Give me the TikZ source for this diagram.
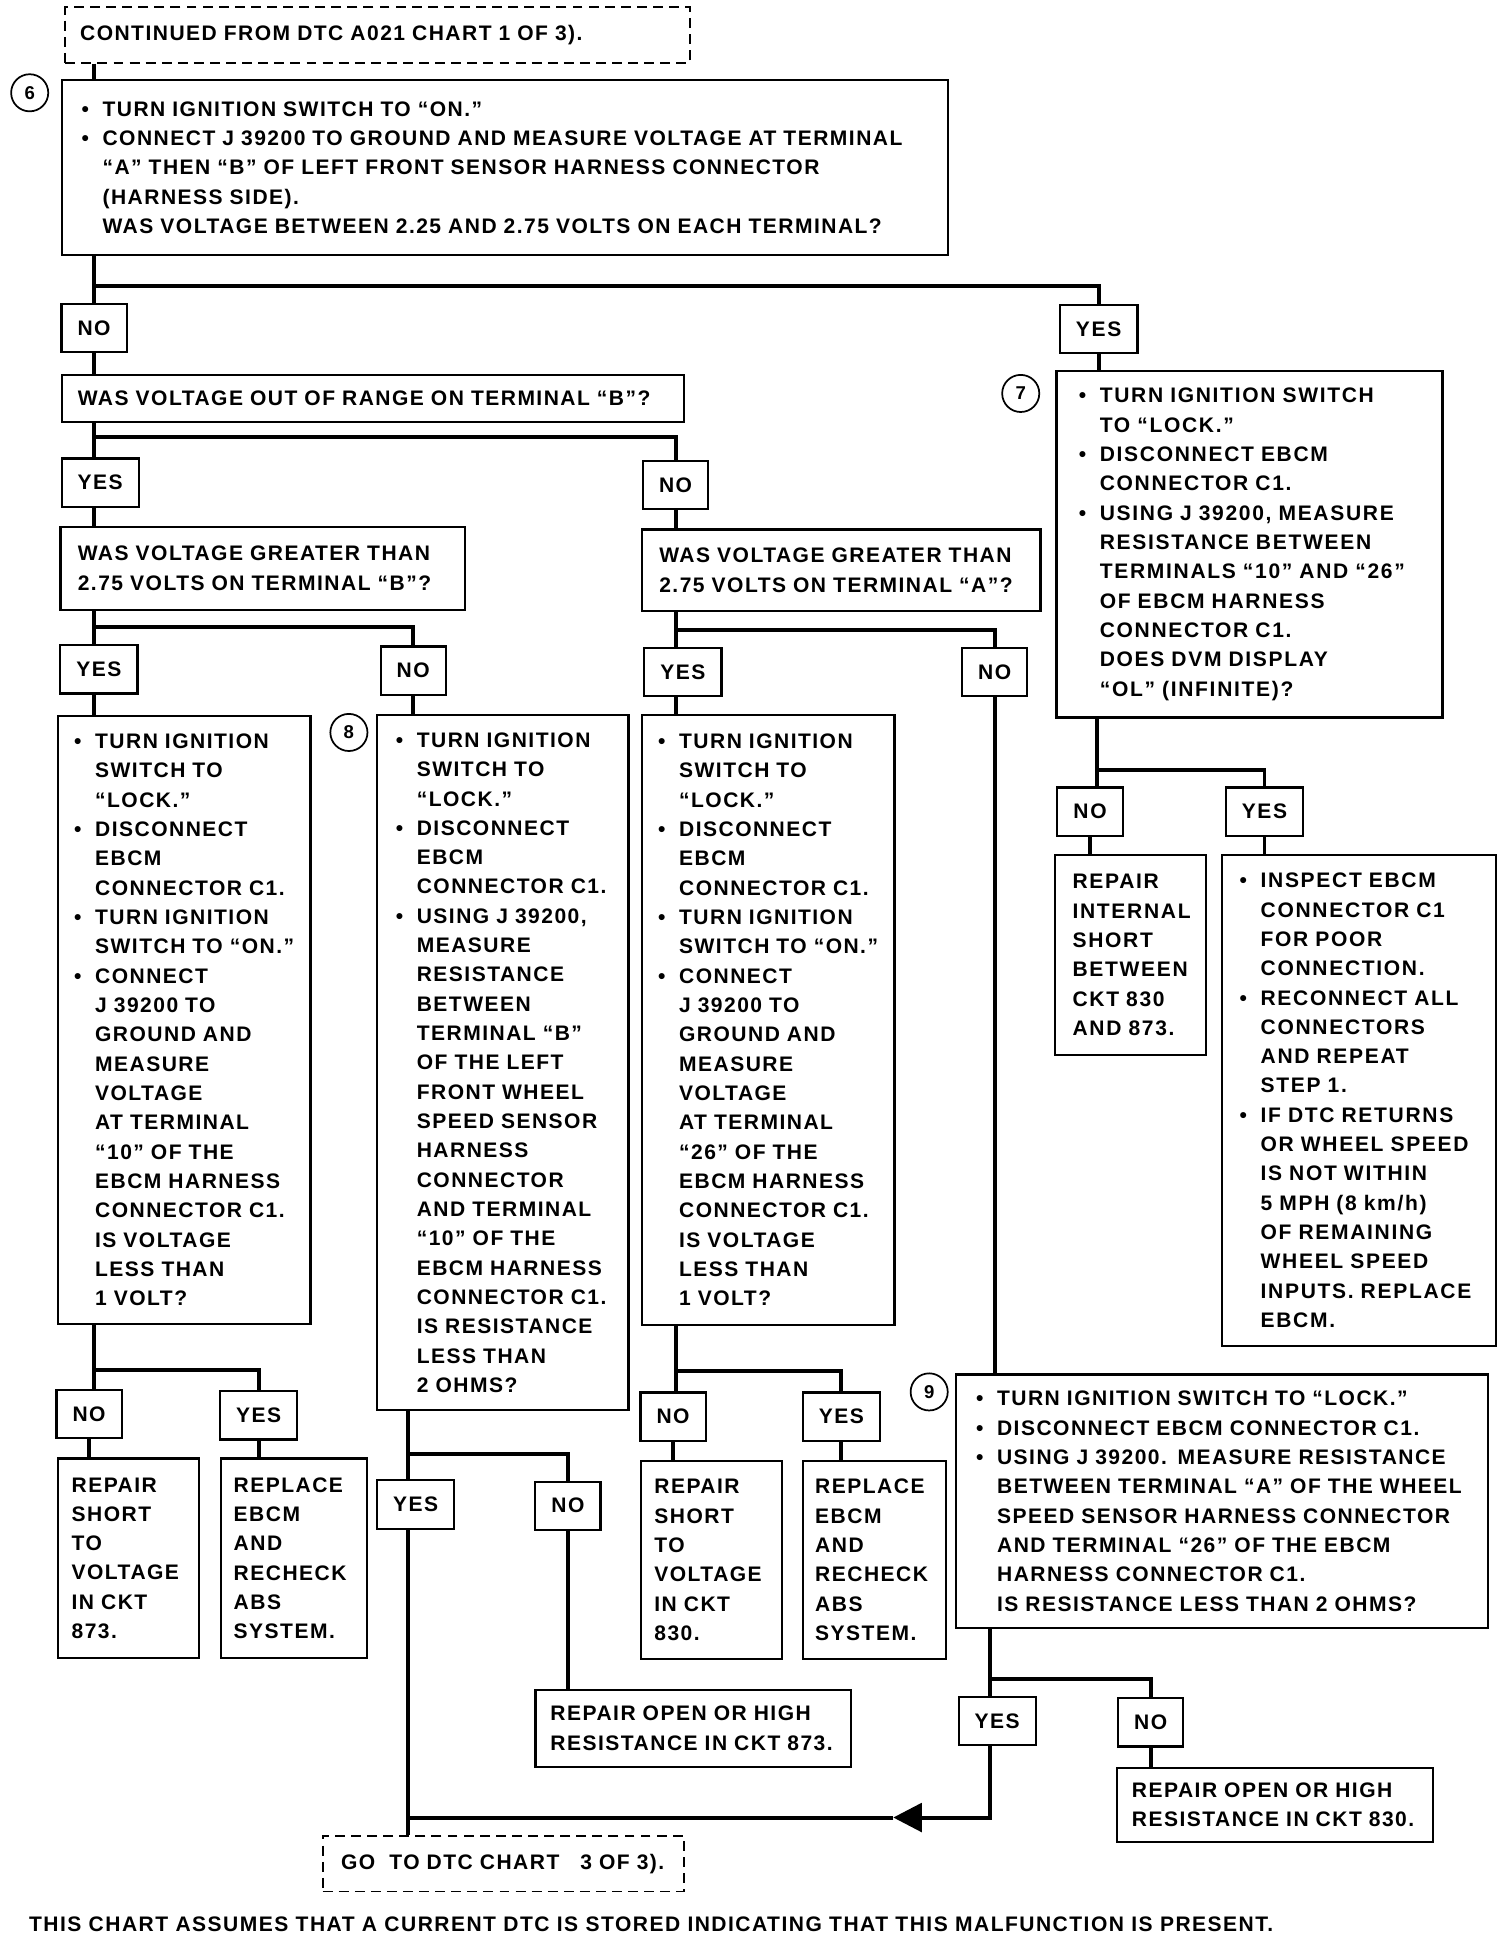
\documentclass[tikz,border=0pt]{standalone}
\usepackage{fontspec}
\usepackage{tikz}
\usetikzlibrary{arrows.meta}
\newfontfamily\chartfont[LetterSpace=7]{Liberation Sans}
\newfontfamily\widefont[LetterSpace=8]{Liberation Sans}
\newcommand{\bu}{\makebox[17pt][l]{\textbullet}}
\newcommand{\ind}{\hspace*{17pt}}

\begin{document}
\begin{tikzpicture}[x=1pt,y=-1pt,
   every node/.style={font=\chartfont\bfseries\fontsize{17}{23.7}\selectfont},
   textbox/.style={draw,line width=1.8pt,anchor=north west,align=left,inner ysep=0pt},
   wide/.style={font=\widefont\bfseries\fontsize{17}{23.7}\selectfont},
   answer/.style={draw,line width=1.8pt,minimum height=39pt,inner xsep=13pt,inner ysep=0pt},
   dashbox/.style={draw,dash pattern=on 8pt off 5pt,line width=1.5pt,anchor=north west,align=left,inner ysep=0pt},
   stepnum/.style={circle,draw,line width=1.4pt,minimum size=30pt,inner sep=0pt,
      font=\chartfont\bfseries\fontsize{15}{15}\selectfont},
   link/.style={line width=3.2pt}]

  \useasboundingbox (0,0) rectangle (1216,1568);

  % step 6
  \node[dashbox,inner xsep=12pt,text width=481pt,minimum height=45pt] (cont) at (52,5)
     {CONTINUED FROM DTC A021 CHART 1 OF 3).};
  \node[stepnum] (c6) at (24,75) {6};
  \node[textbox,inner xsep=16pt,text width=684pt,minimum height=141pt] (s6) at (49,64)
     {\bu TURN IGNITION SWITCH TO “ON.”\\
      \bu CONNECT J 39200 TO GROUND AND MEASURE VOLTAGE AT TERMINAL\\
      \ind “A” THEN “B” OF LEFT FRONT SENSOR HARNESS CONNECTOR\\
      \ind (HARNESS SIDE).\\
      \ind WAS VOLTAGE BETWEEN 2.25 AND 2.75 VOLTS ON EACH TERMINAL?};
  \node[answer] (no1) at (76,265) {NO};
  \node[answer,wide] (yes1) at (888,266) {YES};

  \node[textbox,inner xsep=13pt,text width=477pt,minimum height=38pt] (q1) at (49,302)
     {WAS VOLTAGE OUT OF RANGE ON TERMINAL “B”?};
  \node[answer] (yes2) at (81,390) {YES};
  \node[answer] (no2) at (546,392) {NO};

  \node[textbox,inner xsep=14pt,text width=299pt,minimum height=67pt] (q2) at (48,425)
     {WAS VOLTAGE GREATER THAN\\2.75 VOLTS ON TERMINAL “B”?};
  \node[textbox,inner xsep=14pt,text width=294pt,minimum height=66pt] (q3) at (518,427)
     {WAS VOLTAGE GREATER THAN\\2.75 VOLTS ON TERMINAL “A”?};
  \node[answer] (yes3) at (80,541) {YES};
  \node[answer] (no3) at (334,542) {NO};
  \node[answer] (yes4) at (552,543) {YES};
  \node[answer] (no4) at (804,543) {NO};

  \node[textbox,inner xsep=13pt,text width=178pt,minimum height=491pt] (t1) at (46,578)
     {\bu TURN IGNITION\\ \ind SWITCH TO\\ \ind “LOCK.”\\
      \bu DISCONNECT\\ \ind EBCM\\ \ind CONNECTOR C1.\\
      \bu TURN IGNITION\\ \ind SWITCH TO “ON.”\\
      \bu CONNECT\\ \ind J 39200 TO\\ \ind GROUND AND\\ \ind MEASURE\\ \ind VOLTAGE\\
      \ind AT TERMINAL\\ \ind “10” OF THE\\ \ind EBCM HARNESS\\ \ind CONNECTOR C1.\\
      \ind IS VOLTAGE\\ \ind LESS THAN\\ \ind 1 VOLT?};

  % step 8
  \node[stepnum] (c8) at (282,592) {8};
  \node[textbox,inner xsep=15pt,text width=173pt,minimum height=562pt] (s8) at (304,577)
     {\bu TURN IGNITION\\ \ind SWITCH TO\\ \ind “LOCK.”\\
      \bu DISCONNECT\\ \ind EBCM\\ \ind CONNECTOR C1.\\
      \bu USING J 39200,\\ \ind MEASURE\\ \ind RESISTANCE\\ \ind BETWEEN\\
      \ind TERMINAL “B”\\ \ind OF THE LEFT\\ \ind FRONT WHEEL\\ \ind SPEED SENSOR\\
      \ind HARNESS\\ \ind CONNECTOR\\ \ind AND TERMINAL\\ \ind “10” OF THE\\
      \ind EBCM HARNESS\\ \ind CONNECTOR C1.\\ \ind IS RESISTANCE\\ \ind LESS THAN\\
      \ind 2 OHMS?};

  \node[textbox,inner xsep=13pt,text width=178pt,minimum height=493pt] (t3) at (518,577)
     {\bu TURN IGNITION\\ \ind SWITCH TO\\ \ind “LOCK.”\\
      \bu DISCONNECT\\ \ind EBCM\\ \ind CONNECTOR C1.\\
      \bu TURN IGNITION\\ \ind SWITCH TO “ON.”\\
      \bu CONNECT\\ \ind J 39200 TO\\ \ind GROUND AND\\ \ind MEASURE\\ \ind VOLTAGE\\
      \ind AT TERMINAL\\ \ind “26” OF THE\\ \ind EBCM HARNESS\\ \ind CONNECTOR C1.\\
      \ind IS VOLTAGE\\ \ind LESS THAN\\ \ind 1 VOLT?};

  % step 7
  \node[stepnum] (c7) at (825,318) {7};
  \node[textbox,wide,inner xsep=18pt,text width=276pt,minimum height=280pt] (s7) at (853,299)
     {\bu TURN IGNITION SWITCH\\ \ind TO “LOCK.”\\
      \bu DISCONNECT EBCM\\ \ind CONNECTOR C1.\\
      \bu USING J 39200, MEASURE\\ \ind RESISTANCE BETWEEN\\
      \ind TERMINALS “10” AND “26”\\ \ind OF EBCM HARNESS\\ \ind CONNECTOR C1.\\
      \ind DOES DVM DISPLAY\\ \ind “OL” (INFINITE)?};
  \node[answer,wide] (no5) at (881,656) {NO};
  \node[answer,wide] (yes5) at (1022,656) {YES};
  \node[textbox,wide,inner xsep=14pt,text width=94pt,minimum height=162pt] (r1) at (852,690)
     {REPAIR\\INTERNAL\\SHORT\\BETWEEN\\CKT 830\\AND 873.};
  \node[textbox,wide,inner xsep=14pt,text width=193pt,minimum height=397pt] (r2) at (987,690)
     {\bu INSPECT EBCM\\ \ind CONNECTOR C1\\ \ind FOR POOR\\ \ind CONNECTION.\\
      \bu RECONNECT ALL\\ \ind CONNECTORS\\ \ind AND REPEAT\\ \ind STEP 1.\\
      \bu IF DTC RETURNS\\ \ind OR WHEEL SPEED\\ \ind IS NOT WITHIN\\
      \ind 5 MPH (8 km/h)\\ \ind OF REMAINING\\ \ind WHEEL SPEED\\
      \ind INPUTS. REPLACE\\ \ind EBCM.};

  % step 9
  \node[stepnum] (c9) at (751,1125) {9};
  \node[textbox,inner xsep=16pt,text width=398pt,minimum height=205pt] (s9) at (772,1110)
     {\bu TURN IGNITION SWITCH TO “LOCK.”\\
      \bu DISCONNECT EBCM CONNECTOR C1.\\
      \bu USING J 39200. MEASURE RESISTANCE\\
      \ind BETWEEN TERMINAL “A” OF THE WHEEL\\
      \ind SPEED SENSOR HARNESS CONNECTOR\\
      \ind AND TERMINAL “26” OF THE EBCM\\
      \ind HARNESS CONNECTOR C1.\\
      \ind IS RESISTANCE LESS THAN 2 OHMS?};
  \node[answer] (yes6) at (806,1391) {YES};
  \node[answer] (no6) at (930,1392) {NO};
  \node[textbox,inner xsep=12pt,text width=231pt,minimum height=60pt] (r3) at (902,1428)
     {REPAIR OPEN OR HIGH\\RESISTANCE IN CKT 830.};

  % results
  \node[answer] (no7) at (72,1143) {NO};
  \node[answer] (yes7) at (209,1144) {YES};
  \node[textbox,inner xsep=11pt,text width=92pt,minimum height=161pt] (r4) at (46,1178)
     {REPAIR\\SHORT\\TO\\VOLTAGE\\IN CKT\\873.};
  \node[textbox,inner xsep=10pt,text width=98pt,minimum height=161pt] (r5) at (178,1178)
     {REPLACE\\EBCM\\AND\\RECHECK\\ABS\\SYSTEM.};
  \node[answer] (no8) at (544,1145) {NO};
  \node[answer] (yes8) at (680,1145) {YES};
  \node[textbox,inner xsep=11pt,text width=92pt,minimum height=160pt] (r6) at (517,1180)
     {REPAIR\\SHORT\\TO\\VOLTAGE\\IN CKT\\830.};
  \node[textbox,inner xsep=10pt,text width=96pt,minimum height=160pt] (r7) at (648,1180)
     {REPLACE\\EBCM\\AND\\RECHECK\\ABS\\SYSTEM.};
  \node[answer] (yes9) at (336,1216) {YES};
  \node[answer] (no9) at (459,1217) {NO};
  \node[textbox,inner xsep=12pt,text width=231pt,minimum height=62pt] (r8) at (432,1365)
     {REPAIR OPEN OR HIGH\\RESISTANCE IN CKT 873.};

  \node[dashbox,inner xsep=15pt,text width=262pt,minimum height=45pt] (goto) at (260,1483)
     {GO\ \ TO DTC CHART\ \ \ 3 OF 3).};
  \node[anchor=west] (note) at (20,1555)
     {THIS CHART ASSUMES THAT A CURRENT DTC IS STORED INDICATING THAT THIS MALFUNCTION IS PRESENT.};

  \coordinate (j1) at (76,231);
  \coordinate (j2) at (76,353);
  \coordinate (j3) at (76,507);
  \coordinate (j4) at (546,509);
  \coordinate (j5) at (887,622);
  \coordinate (j6) at (76,1107);
  \coordinate (j7) at (546,1108);
  \coordinate (j8) at (330,1175);
  \coordinate (j9) at (800,1357);
  \coordinate (tip) at (722,1469);

  \draw[link] (cont.south -| j1) -- (s6.north -| j1);
  \foreach \q/\j/\yes/\no in {s6/j1/no1/yes1,q1/j2/yes2/no2,q2/j3/yes3/no3,q3/j4/yes4/no4,
      s7/j5/no5/yes5,t1/j6/no7/yes7,t3/j7/no8/yes8,s8/j8/yes9/no9,s9/j9/yes6/no6}
    \draw[link] (\q.south -| \j) -- (\yes.north -| \j) (\j) -| (\no.north);

  \foreach \from/\to in {no1/q1,yes1/s7,no2/q3,no3/s8,no4/s9,no5/r1,yes5/r2,
      no7/r4,yes7/r5,no8/r6,yes8/r7,no9/r8,no6/r3}
    \draw[link] (\from.south) -- (\from.south |- \to.north);
  \foreach \from/\j/\to in {yes2/j2/q2,yes3/j3/t1,yes4/j4/t3,yes9/j8/goto}
    \draw[link] (\from.south -| \j) -- (\to.north -| \j);

  \draw[link] (tip) -- (tip -| j8);
  \draw[link,-{Triangle[length=23pt,width=23pt]}] (yes6.south -| j9) |- (tip);
\end{tikzpicture}
\end{document}
